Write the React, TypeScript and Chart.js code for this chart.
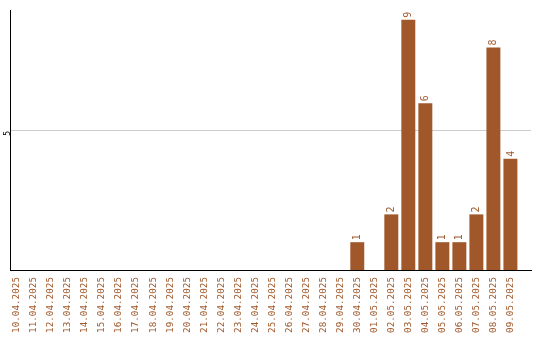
import React, { useEffect, useRef } from "react";
import { Chart, registerables } from "chart.js";

Chart.register(...registerables);

const categories = [
  "10.04.2025", "11.04.2025", "12.04.2025", "13.04.2025", "14.04.2025",
  "15.04.2025", "16.04.2025", "17.04.2025", "18.04.2025", "19.04.2025",
  "20.04.2025", "21.04.2025", "22.04.2025", "23.04.2025", "24.04.2025",
  "25.04.2025", "26.04.2025", "27.04.2025", "28.04.2025", "29.04.2025",
  "30.04.2025", "01.05.2025", "02.05.2025", "03.05.2025", "04.05.2025",
  "05.05.2025", "06.05.2025", "07.05.2025", "08.05.2025", "09.05.2025",
];
const values = [
  0, 0, 0, 0, 0, 0, 0, 0, 0, 0,
  0, 0, 0, 0, 0, 0, 0, 0, 0, 0,
  1, 0, 2, 9, 6, 1, 1, 2, 8, 4,
];
const yTicks = [5];

const BAR = "#a0582a";
const TEXT = "#a0582a";
const FONT = "'DejaVu Sans Mono', monospace";

const valueLabels = {
  id: "valueLabels",
  afterDatasetsDraw(chart: any) {
    const ctx = chart.ctx;
    const meta = chart.getDatasetMeta(0);
    ctx.save();
    ctx.fillStyle = TEXT;
    ctx.font = `10px ${FONT}`;
    ctx.textAlign = "left";
    ctx.textBaseline = "middle";
    meta.data.forEach((el: any, i: number) => {
      const v = values[i];
      if (!v) return;
      ctx.save();
      ctx.translate(el.x + 0.5, el.y - 2);
      ctx.rotate(-Math.PI / 2);
      ctx.fillText(String(v), 0, 0);
      ctx.restore();
    });
    ctx.restore();
  },
};

export default function App() {
  const ref = useRef<HTMLCanvasElement>(null);
  useEffect(() => {
    const chart = new Chart(ref.current!, {
      type: "bar",
      data: {
        labels: categories,
        datasets: [
          {
            data: values,
            backgroundColor: BAR,
            barPercentage: 0.82,
            categoryPercentage: 1,
          },
        ],
      },
      options: {
        animation: false,
        responsive: false,
        maintainAspectRatio: false,
        layout: { padding: { top: 10, right: 9, left: 0, bottom: 0 } },
        plugins: { legend: { display: false }, tooltip: { enabled: false } },
        scales: {
          x: {
            offset: true,
            grid: { display: false, drawTicks: false },
            border: { color: "#000", width: 1 },
            ticks: {
              color: TEXT,
              font: { family: FONT, size: 9.3 },
              minRotation: 90,
              maxRotation: 90,
              padding: 7,
              autoSkip: false,
            },
            afterBuildTicks(scale: any) {
              scale._startValue = -0.41;
              scale._valueRange = 30.62;
            },
            afterFit(scale: any) {
              scale.height = 70;
            },
          },
          y: {
            min: 0,
            max: 9.35,
            afterBuildTicks(scale: any) {
              scale.ticks = yTicks.map((v) => ({ value: v }));
            },
            grid: { color: "#cccccc", drawTicks: false },
            border: { color: "#000", width: 1 },
            ticks: {
              color: "#000",
              font: { family: FONT, size: 8 },
              minRotation: 90,
              maxRotation: 90,
              padding: 2,
            },
            afterFit(scale: any) {
              scale.width = 10;
            },
          },
        },
      },
      plugins: [valueLabels],
    });
    return () => chart.destroy();
  }, []);
  return (
    <div style={{ position: "absolute", left: 0, top: 0, width: 540, height: 340, background: "#fff" }}>
      <canvas ref={ref} width={540} height={340} />
    </div>
  );
}
